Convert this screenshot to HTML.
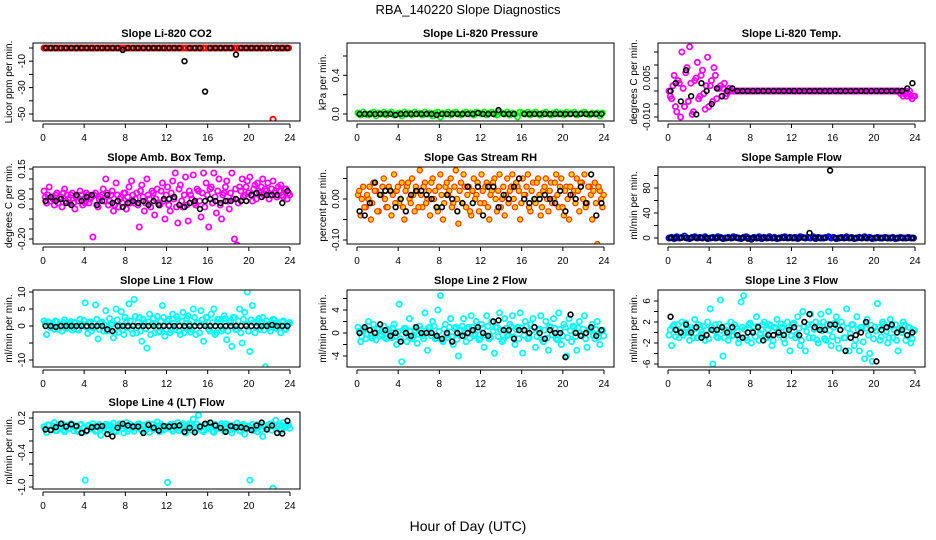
<!DOCTYPE html>
<html><head><meta charset="utf-8"><style>
html,body{margin:0;padding:0;background:#fff}
svg{display:block;font-family:"Liberation Sans",sans-serif}
</style></head><body>
<svg id="chart" width="936" height="540" viewBox="0 0 936 540">
<rect width="936" height="540" fill="#fff"/>
<text x="468" y="14" text-anchor="middle" font-size="13">RBA_140220  Slope Diagnostics</text>
<text x="468" y="531" text-anchor="middle" font-size="14">Hour of Day (UTC)</text>
</svg>
<script>
// ---- data (colored: 15-min samples + extra band samples, black: 30-min samples) ----
const co2Color=[0,0,0,0,0,0,0,0,0,0,0,0, 0,0,0,0,0,0,0,0,0,0,0,0, 0,0,0,0,0,0,0,0,0,0,0,0, 0,0,0,0,0,0,0,0,0,0,0,0, 0,0,0,0,0,0,0,0,0,0,0,0, 0,0,0,0,0,0,0,0,0,0,0,0, 0,0,0,0,0,0,0,0,0,0,0,0, 0,0,0,0,0,-54,0,0,0,0,0,0];
const co2Band=[];
const co2Black=[0,0,0,0,0,0,0,0,0,0,0,0,0,0,0,-1.5,0,0,0,0,0,0,0,0,0,0,0,-10,0,0,0,-33,0,0,0,0,0,-5,0,0,0,0,0,0,0,0,0,0];
const presColor=[0.01,-0.01,0.02,0,-0.01,0.01,0.02,-0.02,0.01,0,0.02,-0.01, 0.01,0.02,-0.01,0,0.01,-0.02,0.02,0,0.01,-0.01,0.02,0, 0.01,-0.01,0.02,0,0.01,-0.02,0.01,0.02,-0.03,0.01,0,0.02, -0.01,0.01,0.02,0,-0.01,0.01,0.02,0,0.01,-0.01,0.02,0.01, 0,0.02,-0.01,0.01,0.02,0,-0.01,0.02,0.01,0,0.02,-0.01, 0.01,0,-0.03,0.02,0.01,0,0.02,-0.01,0.01,0.02,0,-0.01, 0.01,0.02,0,-0.01,0.01,0.02,0,0.01,-0.01,0.02,0,0.01, 0.02,-0.01,0,0.01,0.02,0,-0.01,0.01,0,0.01,-0.02,0.01];
const presBand=[];
const presBlack=[0,0,0,0,0,0,0,-0.01,0,0,0,0,0,0,0,-0.01,0,0,0,0,0,0,0,0.01,0,0,0,0.04,0,0,0,0.78,0,0,0,0,0,0,0,0,0,0,0,0,0,0,0,0];
const tempColor=[0.000,-0.003,0.006,-0.008,0.003,0.015,-0.006,0.009,0.017,-0.009,0.004,0.011, -0.002,0.008,-0.007,0.013,0.002,-0.004,0.006,0.001,0.002,0.001,-0.002,0.000, 0,0,0,0,0,0,0,0,0,0,0,0, 0,0,0,0,0,0,0,0,0,0,0,0, 0,0,0,0,0,0,0,0,0,0,0,0, 0,0,0,0,0,0,0,0,0,0,0,0, 0,0,0,0,0,0,0,0,0,0,0,0, 0,0,0,0,0,0,-0.001,-0.002,0,-0.001,-0.002,-0.002];
const tempBand=[-0.002,0.002,-0.006,0.004,-0.010,0.001,0.007,-0.004,0.003,-0.008,0.005,-0.003, 0.006,-0.001,0.002,-0.006,0.004,0.009,-0.003,0.001,-0.002,0.003,-0.001,0.001, 0,0,0,0,0,0,0,0,0,0,0,0, 0,0,0,0,0,0,0,0,0,0,0,0, 0,0,0,0,0,0,0,0,0,0,0,0, 0,0,0,0,0,0,0,0,0,0,0,0, 0,0,0,0,0,0,0,0,0,0,0,0, 0,0,0,0,0,0,0,-0.001,-0.002,0,-0.003,-0.002];
const tempBlack=[0,0.003,-0.004,0.008,-0.002,-0.009,0.003,0,-0.005,0.001,-0.002,0,0.001,0,0,0,0,0,0,0,0,0,0,0,0,0,0,0,0,0,0,0,0,0,0,0,0,0,0,0,0,0,0,0,0,0,0.001,0.003];
const ambColor=[0.04,-0.02,0.06,0.01,-0.03,0.03,0.00,-0.04,0.05,0.02,-0.02,0.03, -0.05,0.01,0.04,-0.03,-0.02,0.02,0.00,-0.19,0.03,-0.04,0.01,0.05, 0.10,-0.03,0.02,-0.06,0.08,-0.04,0.01,0.03,-0.05,0.06,0.09,-0.02, 0.03,-0.14,0.07,-0.06,0.10,0.00,0.04,-0.08,0.05,-0.03,0.08,-0.10, 0.06,-0.06,0.09,0.13,-0.12,0.07,-0.04,0.11,-0.11,0.02,0.12,-0.03, 0.04,-0.09,0.13,0.08,-0.14,0.06,0.13,-0.07,0.10,-0.10,0.03,0.09, -0.05,0.13,-0.20,-0.23,0.06,0.10,0.02,0.09,0.11,-0.01,0.07,0.08, 0.03,0.10,0.05,0.08,0.02,0.09,0.04,0.06,0.07,0.01,0.05,0.03];
const ambBand=[0.01,0.02,-0.01,0.00,0.02,-0.02,0.01,0.03,-0.01,0.00,0.02,-0.02, 0.01,-0.01,0.02,0.00,0.03,-0.02,0.01,0.02,-0.03,0.00,0.02,-0.01, 0.03,-0.01,0.04,-0.03,0.02,0.00,-0.02,0.03,0.01,-0.02,0.02,0.00, -0.03,0.04,0.01,-0.02,0.02,-0.04,0.03,0.00,-0.02,0.04,-0.01,0.02, -0.03,0.03,0.00,-0.04,0.05,-0.01,0.02,-0.03,0.04,0.00,-0.02,0.05, -0.01,0.03,-0.04,0.02,0.05,-0.02,0.01,0.04,-0.03,0.02,0.06,-0.01, 0.03,0.00,0.05,-0.02,0.04,0.01,0.06,0.03,0.02,0.05,0.00,0.04, 0.06,0.02,0.04,0.00,0.05,0.03,0.01,0.04,0.02,0.05,0.00,0.02];
const ambBlack=[-0.01,0.01,-0.01,0.00,-0.02,-0.03,0.02,-0.01,0.01,0.02,-0.03,-0.01,0.02,-0.02,-0.01,-0.04,-0.02,-0.01,-0.02,-0.01,-0.03,-0.01,-0.03,0.00,0.00,0.01,-0.03,-0.04,-0.02,-0.01,-0.05,-0.01,0.00,-0.01,-0.02,-0.01,-0.01,0.00,-0.01,-0.01,0.02,0.03,0.01,0.02,0.02,0.02,-0.02,0.04];
const rhColor=[0.01,-0.04,0.03,-0.02,0.00,-0.05,0.04,0.02,-0.03,0.01,0.05,-0.02, 0.03,-0.04,0.06,0.02,-0.01,0.04,-0.05,0.03,0.00,0.05,-0.03,0.02, 0.07,-0.02,0.04,0.00,-0.04,0.05,0.02,-0.03,0.06,-0.05,0.03,0.01, 0.05,-0.01,0.07,-0.06,0.04,0.06,-0.02,0.03,-0.04,0.05,0.01,-0.03, 0.06,-0.01,0.04,-0.05,0.02,0.05,-0.03,0.06,0.00,-0.04,0.05,0.02, 0.06,-0.02,0.03,-0.05,0.05,0.01,0.06,-0.03,0.04,-0.01,0.05,-0.04, 0.02,0.05,-0.03,0.04,0.00,0.06,-0.02,0.05,-0.04,0.03,-0.05,0.06, 0.02,0.05,-0.03,0.04,0.06,-0.01,0.03,-0.05,0.04,-0.11,0.02,-0.02];
const rhBand=[0.02,0.00,-0.02,0.01,0.03,-0.01,0.02,-0.03,0.01,0.03,0.00,-0.02, 0.02,0.01,-0.01,0.03,0.00,-0.02,0.02,0.04,-0.01,0.01,0.03,-0.02, 0.01,0.03,-0.01,0.02,0.04,0.00,-0.02,0.03,0.01,-0.01,0.04,0.02, -0.02,0.03,0.00,0.02,-0.01,0.03,0.01,-0.03,0.02,0.00,0.04,-0.01, 0.02,0.03,-0.02,0.01,0.04,0.00,0.02,-0.02,0.03,0.01,-0.01,0.03, 0.00,0.04,0.02,-0.01,0.01,0.03,-0.02,0.02,0.00,0.04,0.01,-0.02, 0.03,0.00,0.02,-0.01,0.04,0.01,0.03,-0.02,0.02,0.00,0.03,0.01, -0.01,0.02,0.04,0.00,-0.02,0.03,0.01,0.02,-0.01,0.03,0.00,0.01];
const rhBlack=[-0.03,-0.04,-0.01,0.04,0.01,0.02,0.02,-0.02,0.00,-0.03,0.01,0.02,0.02,0.01,0.00,-0.02,-0.02,0.01,0.00,-0.03,-0.01,0.03,-0.01,0.03,-0.04,0.03,0.03,-0.02,0.01,0.00,0.03,0.05,0.00,-0.01,0.00,0.00,0.01,0.00,-0.01,0.02,-0.03,0.01,0.00,0.03,-0.01,0.06,-0.04,-0.01];
const flowColor=[0,1,-1,2,0,1,3,0,-1,1,2,0, 1,0,2,-1,0,1,0,2,1,-1,0,1, 0,2,1,0,-1,1,2,0,-2,1,0,2, -1,1,0,2,0,1,-1,0,1,2,0,1, 0,1,-1,2,1,0,1,0,2,-1,1,0, 0,1,2,0,1,-1,0,1,0,2,0,1, -1,0,1,0,2,0,1,-1,0,1,0,0, 1,0,0,1,-1,0,1,0,0,1,0,0];
const flowBand=[];
const flowBlack=[0,0,0,0,0,0,0,0,0,0,0,0,0,0,0,-1,0,0,0,0,0,0,0,0,0,0,0,8,0,0,0,108,0,0,0,0,0,0,0,0,0,0,0,0,0,0,0,0];
const l1Color=[1.5,-2.5,1.0,0.5,-1.0,1.2,0.0,-1.5,1.8,-0.5,0.8,-1.2, 1.0,-0.8,2.0,0.5,6.8,-2.2,1.2,-0.5,6.2,-3.8,0.8,-1.5, 4.5,-1.0,0.5,-3.5,5.0,-1.8,4.2,-2.5,1.5,6.5,-1.0,7.8, -2.0,2.5,-4.5,1.0,-6.5,3.5,0.5,-2.0,2.8,-1.5,6.0,-3.0, 1.5,-2.0,3.5,-1.0,2.0,-2.5,4.0,-0.5,3.0,-1.8,5.0,-2.5, 1.0,4.5,-4.5,2.5,-1.0,3.5,5.0,-2.0,2.0,-1.5,3.0,-4.0, 1.5,-6.0,2.5,-1.0,5.0,-5.0,4.0,10.0,-7.5,6.0,-2.0,1.5, -1.0,2.5,-12.0,0.5,-1.5,2.0,-0.5,1.0,-2.0,1.5,-1.0,0.5];
const l1Band=[0.8,1.2,-0.5,0.3,1.5,-1.0,0.6,1.0,-0.8,0.4,1.3,-0.6, 0.9,-1.2,0.5,1.6,-0.4,1.0,-1.5,0.7,2.0,-1.0,1.2,0.3, -1.5,2.2,0.5,-2.0,1.8,0.2,-1.2,2.5,-0.5,1.5,-2.2,2.8, 1.0,-1.5,2.0,-0.8,1.2,-2.5,2.2,0.5,-1.8,1.5,2.5,-1.0, 2.0,-1.2,0.8,2.8,-1.5,1.5,-2.0,2.2,0.5,-1.0,2.5,1.0, -2.0,1.8,0.6,2.5,-1.5,1.0,-2.5,2.0,1.2,-0.8,2.2,-1.5, 1.0,2.5,-1.0,1.5,-2.0,2.0,0.5,-1.5,1.8,1.0,-0.5,2.2, 0.8,-1.2,1.5,-0.5,1.0,1.8,-0.8,0.5,1.2,-1.0,0.6,1.0];
const l1Black=[0,0,-0.3,0,0,0,0,0,0,0,0,0,-1,-1.5,0,0,0,0,0,0,0,0,0,0,0,0,0,0,0,0,0,0,0,0,0,0,0,0,0,0,0,0,0,0,0.3,0,0,0];
const l2Color=[1.0,-1.5,0.5,-1.0,2.0,-0.5,1.5,-1.2,0.8,-0.2,1.2,-1.0, 0.5,-0.8,1.5,-2.0,5.0,-5.0,0.8,-1.5,2.5,-1.0,0.5,-1.8, 1.2,-0.5,3.5,-3.0,1.0,2.0,-1.0,4.0,6.5,-1.5,1.5,-0.8, 2.5,-2.0,1.0,-4.0,0.5,2.5,-1.5,1.0,3.0,-0.5,2.0,-1.2, 1.5,-2.5,3.0,-1.0,2.0,-3.5,1.0,3.5,-1.5,2.5,-0.5,1.5, 3.0,-2.0,1.0,3.5,-3.5,2.0,-1.0,1.5,2.5,-2.5,0.5,3.0, -1.5,2.0,-3.0,1.0,2.5,-1.0,3.5,-2.0,1.5,-4.0,2.5,-1.5, 1.0,-3.0,2.0,-0.5,3.0,-2.5,0.5,1.5,-1.0,2.0,-2.0,0.5];
const l2Band=[0.3,-0.6,0.8,-0.2,0.5,-0.9,0.2,0.7,-0.5,0.4,-0.8,0.6, -0.3,0.9,-0.6,0.2,-1.0,0.5,0.8,-0.4,0.3,-0.7,1.0,-0.2, 0.6,-1.0,0.4,0.9,-0.5,1.2,-0.8,0.3,-1.2,0.7,-0.3,1.0, -0.6,0.8,-1.1,0.4,1.2,-0.5,0.7,-0.9,1.0,-0.2,0.5,-1.0, 0.9,-0.4,1.2,-0.8,0.3,1.0,-0.6,0.5,-1.2,0.8,-0.3,1.1, -0.7,0.6,-1.0,0.9,-0.4,1.2,-0.8,0.4,1.0,-0.6,0.7,-1.1, 0.5,-0.9,1.1,-0.3,0.8,-1.2,0.6,-0.5,1.0,-0.8,0.4,1.2, -0.6,0.9,-0.3,0.7,-1.0,0.5,0.8,-0.4,0.6,-0.7,0.3,-0.5];
const l2Black=[0,1,0.5,0,1.5,0.5,-0.5,0,-1.5,0,-0.5,1,0,0,0,-0.5,-1,0,-1.5,0,-0.5,0,0.5,1,0,-0.5,2,2.2,0.5,0.5,-1,0.5,0.5,0,1,0,-1,0.5,0,0,-4.2,3.2,0,-0.5,0,1,-0.5,0.5];
const l3Color=[-0.5,-2.5,1.5,0.5,-1.0,2.0,0.0,1.0,-1.5,0.5,2.5,-1.0, 1.0,-0.5,-1.5,2.0,4.5,-6.0,1.5,-1.0,6.2,-4.5,0.5,-1.5, 2.0,-0.5,1.0,-2.0,5.8,7.0,-1.0,1.5,-2.0,1.0,3.0,-1.5, 0.5,2.0,-1.0,1.5,-2.5,1.0,2.5,-0.5,1.0,-2.0,2.0,-3.5, 1.5,-1.0,3.0,-2.5,4.0,-3.5,1.5,3.5,-1.0,2.0,-2.0,3.5, 2.0,-1.5,4.0,-2.5,1.0,3.0,-3.0,2.0,-1.0,4.5,-3.5,1.5, -2.5,3.0,-3.5,1.0,-5.0,2.5,-4.0,-5.5,1.0,5.5,-1.5,2.0, 1.0,-2.0,2.5,-1.0,1.5,-3.5,0.5,2.0,-1.5,1.0,-2.0,0.5];
const l3Band=[0.5,1.2,-0.8,1.5,0.2,-0.5,1.8,0.0,1.0,-1.0,0.8,1.5, -0.3,1.2,0.5,-1.2,1.0,0.3,-0.8,1.6,0.4,-1.0,1.2,0.0, -0.6,1.5,0.2,-1.2,1.0,0.6,-1.5,1.8,0.3,-0.8,1.2,-0.2, 1.5,-1.0,0.6,1.2,-1.5,0.8,0.0,1.6,-1.2,0.5,1.0,-0.6, 1.8,-0.4,0.8,-1.5,1.2,0.2,-1.0,1.5,0.6,-1.4,1.0,0.3, -1.2,1.6,0.4,-0.8,1.8,-1.5,0.5,1.2,-1.0,0.8,-0.2,1.5, -1.4,0.6,1.0,-1.8,0.8,-0.5,1.4,-1.2,0.3,1.0,-0.8,1.6, 0.2,-1.0,1.2,0.5,-1.5,0.8,0.0,1.4,-0.6,0.9,-1.2,0.4];
const l3Black=[3,0.5,0,1.5,0,1,-1,-0.5,0.5,0.5,1,0,1,-0.5,-1,0,0,1,-1.5,-0.5,-0.5,0,-0.5,0.5,1,-0.5,2,3.5,1,0.5,0.5,1.5,1.5,0.5,-3.5,-1,-0.5,0,2,0.5,-5.5,0.5,1,1.5,0,0.5,-0.5,0];
const l4Color=[0.05,-0.05,0.08,0.00,0.12,-0.02,0.06,0.10,-0.04,0.07,0.02,0.09, 0.04,-0.03,0.08,-0.05,-0.88,0.06,0.02,0.10,-0.03,0.07,-0.10,0.05, 0.09,-0.02,0.06,0.11,-0.04,0.03,0.08,-0.06,0.12,0.01,0.07,-0.03, 0.05,0.10,-0.02,0.08,0.03,-0.05,0.09,0.02,0.13,-0.04,0.06,0.01, -0.92,0.09,-0.03,0.07,0.12,0.02,0.10,-0.06,0.05,0.08,0.18,-0.02, 0.25,0.06,-0.04,0.09,0.03,0.11,-0.05,0.07,0.02,0.10,-0.03,0.06, 0.08,-0.06,0.04,0.11,-0.02,0.07,-0.08,0.05,-0.88,0.09,0.02,-0.04, 0.08,-0.12,0.06,0.03,0.10,-1.02,0.16,0.05,-0.02,0.12,0.04,0.08];
const l4Band=[0.02,0.08,0.00,0.06,-0.02,0.09,0.03,-0.01,0.07,0.01,0.10,-0.02, 0.06,0.00,0.09,0.03,-0.03,0.08,0.01,0.05,-0.01,0.09,0.02,0.06, 0.00,0.08,0.03,-0.02,0.07,0.10,0.01,0.05,-0.03,0.09,0.02,0.06, 0.09,0.01,0.06,-0.02,0.10,0.04,0.00,0.07,0.02,0.09,-0.01,0.05, 0.06,0.00,0.09,0.03,-0.02,0.08,0.01,0.06,0.10,-0.01,0.05,0.09, 0.03,-0.02,0.08,0.01,0.06,-0.03,0.09,0.02,0.07,0.00,0.10,0.04, -0.01,0.07,0.02,0.05,-0.03,0.09,0.01,0.06,0.03,-0.02,0.08,0.04, 0.00,0.06,0.02,0.09,-0.01,0.05,0.08,0.01,0.07,0.03,0.06,0.02];
const l4Black=[0,-0.01,0.04,0.10,0.05,0.09,0.06,-0.06,-0.02,0.04,0.05,0.06,-0.08,-0.12,0.03,0.10,0.07,0.05,0.05,-0.06,0.08,0.03,-0.02,0.06,0.05,0.06,0.07,-0.04,0.03,-0.05,0.05,0.10,0.12,0.07,0.03,-0.04,0.06,0.04,0.04,0.02,-0.01,0.07,0.12,0.00,0.07,-0.06,-0.07,0.15];
const xTicks=[0,4,8,12,16,20,24];

const NS='http://www.w3.org/2000/svg';
const svg=document.getElementById('chart');
function mk(tag,attrs,parent){const e=document.createElementNS(NS,tag);for(const k in attrs)e.setAttribute(k,attrs[k]);(parent||svg).appendChild(e);return e;}

const colX=[43,357,668], rowTop=[43,167,290,412], rowBot=[121,244,367,489];
const panels=[
 {id:'co2',title:'Slope Li-820 CO2',ylab:'Licor ppm per min.',c:0,r:0,v1:0,p1:48,v2:-50,p2:114,ticks:[0,-10,-20,-30,-40,-50],labels:[-10,-30,-50],col:'#ff0000',cd:co2Color,bandd:co2Band,bd:co2Black},
 {id:'pressure',title:'Slope Li-820 Pressure',ylab:'kPa per min.',c:1,r:0,v1:0,p1:114,v2:0.6,p2:56,ticks:[0,0.2,0.4,0.6],labels:['0.0','0.4'],col:'#00ff00',cd:presColor,bandd:presBand,bd:presBlack},
 {id:'temp',title:'Slope Li-820 Temp.',ylab:'degrees C per min.',c:2,r:0,v1:0,p1:91,v2:-0.01,p2:117,ticks:[0.015,0.01,0.005,0,-0.005,-0.01],labels:['0.005','-0.010'],col:'#ff00ff',cd:tempColor,bandd:tempBand,bd:tempBlack},
 {id:'amb',title:'Slope Amb. Box Temp.',ylab:'degrees C per min.',c:0,r:1,v1:0,p1:199,v2:0.15,p2:169,ticks:[0.15,0.1,0.05,0,-0.05,-0.1,-0.15,-0.2],labels:['0.15','0.00','-0.20'],col:'#ff00ff',cd:ambColor,bandd:ambBand,bd:ambBlack},
 {id:'rh',title:'Slope Gas Stream RH',ylab:'percent per min.',c:1,r:1,v1:0,p1:199,v2:-0.1,p2:240,ticks:[0.05,0,-0.05,-0.1],labels:['0.00','-0.10'],col:'#ff9900',cd:rhColor,bandd:rhBand,bd:rhBlack,rh:true},
 {id:'sampleflow',title:'Slope Sample Flow',ylab:'ml/min per min.',c:2,r:1,v1:0,p1:238,v2:80,p2:188,ticks:[0,20,40,60,80,100],labels:[0,40,80],col:'#0000ff',cd:flowColor,bandd:flowBand,bd:flowBlack},
 {id:'line1',title:'Slope Line 1 Flow',ylab:'ml/min per min.',c:0,r:2,v1:0,p1:326,v2:10,p2:292,ticks:[10,5,0,-5,-10],labels:[10,5,0,-10],col:'#00ffff',cd:l1Color,bandd:l1Band,bd:l1Black},
 {id:'line2',title:'Slope Line 2 Flow',ylab:'ml/min per min.',c:1,r:2,v1:0,p1:333,v2:4,p2:310,ticks:[6,4,2,0,-2,-4],labels:[4,0,-4],col:'#00ffff',cd:l2Color,bandd:l2Band,bd:l2Black},
 {id:'line3',title:'Slope Line 3 Flow',ylab:'ml/min per min.',c:2,r:2,v1:2,p1:322,v2:-6,p2:364,ticks:[6,4,2,0,-2,-4,-6],labels:[6,2,-2,-6],col:'#00ffff',cd:l3Color,bandd:l3Band,bd:l3Black},
 {id:'line4',title:'Slope Line 4 (LT) Flow',ylab:'ml/min per min.',c:0,r:3,v1:0.2,p1:418,v2:-1.0,p2:487,ticks:[0.2,0,-0.2,-0.4,-0.6,-0.8,-1.0],labels:['0.2','-0.4','-1.0'],col:'#00ffff',cd:l4Color,bandd:l4Band,bd:l4Black},
];

panels.forEach(p=>{
  const x0=colX[p.c], top=rowTop[p.r], bot=rowBot[p.r];
  const left=x0-10, right=x0+257;
  const xs=h=>x0+h*247/24;
  const ys=v=>p.p1+(v-p.v1)*(p.p2-p.p1)/(p.v2-p.v1);
  const g=mk('g',{});
  
  
  const cp=mk('clipPath',{id:'clip-'+p.id},g);
  mk('rect',{x:left,y:top,width:right-left,height:bot-top},cp);
  const t=mk('text',{x:(left+right)/2,y:top-6,'text-anchor':'middle','font-size':11,'font-weight':'bold'},g);
  t.textContent=p.title;
  
  
  const cg=mk('g',{'clip-path':'url(#clip-'+p.id+')'},g);
  
  
  const drawC=(v,h)=>{
    const c=mk('circle',{cx:xs(h),cy:ys(v),r:2.6,fill:p.rh?'#ffcc00':'none',stroke:p.rh?'#ff3300':p.col,'stroke-width':p.rh?1.2:1.8},cg);
    
    
  };
  p.cd.forEach((v,i)=>drawC(v,0.1+i*0.25));
  p.bandd.forEach((v,i)=>drawC(v,0.22+i*0.25));
  const bg=mk('g',{'clip-path':'url(#clip-'+p.id+')'},g);
  
  
  p.bd.forEach((v,i)=>{
    const h=0.25+i*0.5;
    const c=mk('circle',{cx:xs(h),cy:ys(v),r:2.4,fill:'none',stroke:'#000','stroke-width':1.6},bg);
    
    
  });
  const box=mk('rect',{x:left,y:top,width:right-left,height:bot-top,fill:'none',stroke:'#000','stroke-width':1},g);
  
  
  const xa=mk('g',{},g);
  
  
  mk('line',{x1:xs(0),x2:xs(24),y1:bot+3,y2:bot+3,stroke:'#000'},xa);
  xTicks.forEach(h=>{
    mk('line',{x1:xs(h),x2:xs(h),y1:bot+3,y2:bot+7,stroke:'#000'},xa);
    const l=mk('text',{x:xs(h),y:bot+20,'text-anchor':'middle','font-size':10},xa);
    l.textContent=h;
    
    
  });
  const ya=mk('g',{},g);
  
  
  const tys=p.ticks.map(ys);
  mk('line',{x1:left,x2:left,y1:Math.min(...tys),y2:Math.max(...tys),stroke:'#000'},ya);
  p.ticks.forEach(v=>{mk('line',{x1:left-4,x2:left,y1:ys(v),y2:ys(v),stroke:'#000'},ya);});
  p.labels.forEach(v=>{
    const yy=ys(+v);
    const l=mk('text',{x:0,y:0,transform:`translate(${left-8},${yy}) rotate(-90)`,'text-anchor':'middle','font-size':10},ya);
    l.textContent=v;
    
    
  });
  const yt=mk('text',{x:0,y:0,transform:`translate(${left-21},${(top+bot)/2}) rotate(-90)`,'text-anchor':'middle','font-size':10},g);
  yt.textContent=p.ylab;
  
  
});
</script>
</body></html>
